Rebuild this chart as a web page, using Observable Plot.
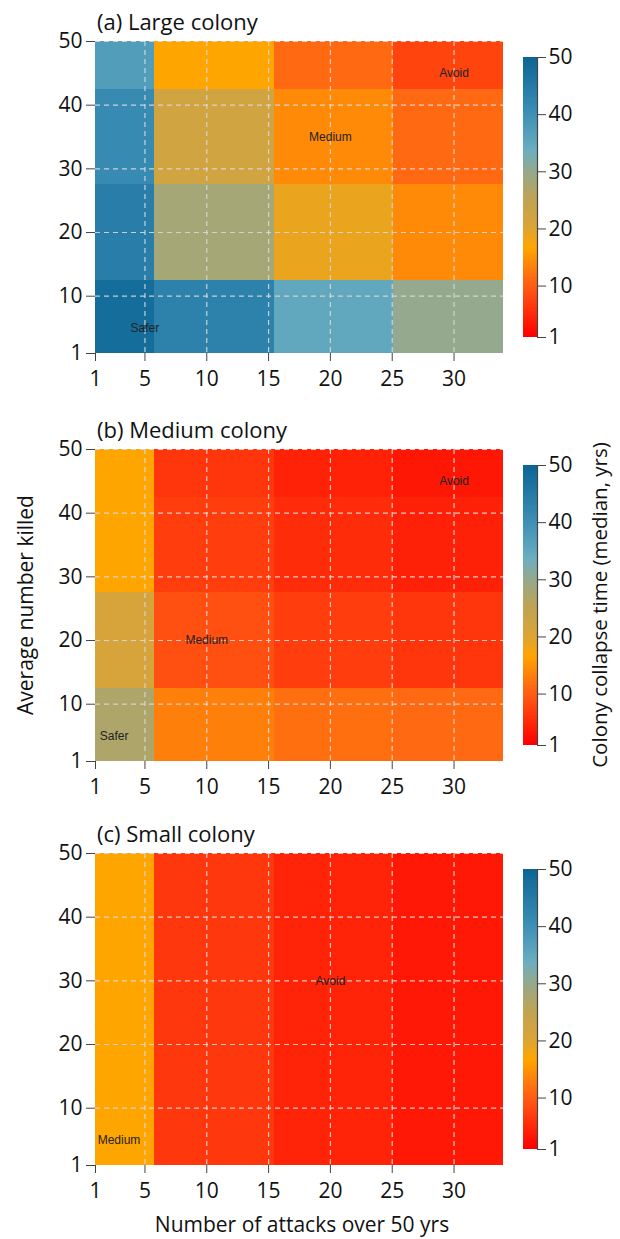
<!DOCTYPE html>
<html><head><meta charset="utf-8">
<script src="https://cdn.jsdelivr.net/npm/d3@7"></script>
<script src="https://cdn.jsdelivr.net/npm/@observablehq/plot@0.6"></script>
<style>
body{margin:0;background:#fff;}
#wrap{position:relative;width:620px;height:1239px;font-family:"Open Sans",Lato,sans-serif;color:#111;overflow:hidden;}
.abs{position:absolute;}
.ptitle{position:absolute;font-size:22px;white-space:nowrap;line-height:1;}
.rot{position:absolute;white-space:nowrap;line-height:1;transform:translate(-50%,-50%) rotate(-90deg);}
.xt{position:absolute;white-space:nowrap;line-height:1;transform:translateX(-50%);}
</style></head><body><div id="wrap"></div>
<script>
// ---- data ----
const attackBreaks = [1, 5.8, 15.5, 25.1, 34];      // column edges (number of attacks)
const killedBreaks = [1, 12.5, 27.6, 42.4, 50];     // row edges (average number killed)
const xTicks = [1, 5, 10, 15, 20, 25, 30];
const yTicks = [1, 10, 20, 30, 40, 50];
const gridXTicks = [5, 10, 15, 20, 25, 30];
const gridYTicks = [10, 20, 30, 40, 50];
const colorbarTicks = [1, 10, 20, 30, 40, 50];
const colorStops = [1, 10, 16.5, 20, 25, 30, 33.5, 40, 50];
const colorRange = ["#ff0000", "#ff5e14", "#ffa500", "#dca434", "#bfa353", "#94a98e", "#6caec0", "#3c8fb5", "#0b6494"];
const panelTitles = ["(a) Large colony", "(b) Medium colony", "(c) Small colony"];
// median collapse time, rows bottom (1-12) to top (42-50), columns left to right
const largeColony = [
  [48, 43, 35, 30],
  [44, 28, 18.5, 14],
  [41, 22, 14, 11],
  [37, 16.5, 11, 7.5]
];
const mediumColony = [
  [27, 13, 11.5, 11],
  [21, 8.6, 6.8, 6.2],
  [16.5, 6.8, 5.2, 4.2],
  [16.5, 6.2, 4.3, 3.2]
];
const smallColony = [
  [16.5, 6.3, 4.4, 3.3],
  [16.5, 6.3, 4.4, 3.3],
  [16.5, 6.3, 4.4, 3.3],
  [16.5, 6.3, 4.4, 3.3]
];
const largeLabels = [{x: 5, y: 5, text: "Safer"}, {x: 20, y: 35, text: "Medium"}, {x: 30, y: 45, text: "Avoid"}];
const mediumLabels = [{x: 2.5, y: 5, text: "Safer"}, {x: 10, y: 20, text: "Medium"}, {x: 30, y: 45, text: "Avoid"}];
const smallLabels = [{x: 2.9, y: 5, text: "Medium"}, {x: 20, y: 30, text: "Avoid"}];
const panelValues = [largeColony, mediumColony, smallColony];
const panelLabels = [largeLabels, mediumLabels, smallLabels];
const panelTops = [0, 408, 812];
const titleTops = [9.5, 417.5, 821.5];
const rampValues = d3.range(1, 50, 0.25);

// ---- build ----
const wrap = document.getElementById("wrap");
const colorScale = {type: "linear", domain: colorStops, range: colorRange, interpolate: "rgb"};
const font = "'Open Sans', Lato, sans-serif";

function cellsOf(vals) {
  const out = [];
  vals.forEach((row, r) => row.forEach((v, c) => out.push({
    x1: attackBreaks[c], x2: attackBreaks[c + 1], y1: killedBreaks[r], y2: killedBreaks[r + 1], value: v
  })));
  return out;
}

panelValues.forEach((vals, i) => {
  const top = panelTops[i];
  const main = Plot.plot({
    width: 510, height: 393,
    marginLeft: 95, marginRight: 7, marginTop: 41, marginBottom: 40,
    x: {domain: [1, 34]},
    y: {domain: [1, 50]},
    color: colorScale,
    style: {fontFamily: font, fontSize: "21px", color: "#111", background: "transparent", overflow: "visible"},
    marks: [
      Plot.rect(cellsOf(vals), {x1: "x1", x2: "x2", y1: "y1", y2: "y2", fill: "value", shapeRendering: "crispEdges"}),
      Plot.gridX(gridXTicks, {stroke: "#d8d8d8", strokeOpacity: 0.9, strokeWidth: 1.2, strokeDasharray: "5,4"}),
      Plot.gridY(gridYTicks, {stroke: "#d8d8d8", strokeOpacity: 0.9, strokeWidth: 1.2, strokeDasharray: "5,4"}),
      Plot.axisX(xTicks, {tickSize: 8, tickPadding: 10, label: null, stroke: "#444", fontSize: 21}),
      Plot.axisY(yTicks, {tickSize: 9, tickPadding: 4, label: null, stroke: "#444", fontSize: 21}),
      Plot.text(panelLabels[i], {x: "x", y: "y", text: "text", fontSize: 12, fontFamily: "'Liberation Sans', Arial, sans-serif", fill: "#222"})
    ]
  });
  main.classList.add("abs");
  main.style.left = "0px";
  main.style.top = top + "px";
  wrap.appendChild(main);

  const bar = Plot.plot({
    width: 90, height: 393,
    marginLeft: 23, marginRight: 53, marginTop: 57, marginBottom: 56,
    y: {domain: [1, 50]},
    color: colorScale,
    style: {fontFamily: font, fontSize: "21px", color: "#111", background: "transparent", overflow: "visible"},
    marks: [
      Plot.rect(rampValues, {y1: d => d, y2: d => Math.min(50, d + 0.3), fill: d => d, shapeRendering: "crispEdges"}),
      Plot.frame({anchor: "right", stroke: "#444", strokeWidth: 1.2}),
      Plot.axisY(colorbarTicks, {anchor: "right", tickSize: 8, tickPadding: 3, label: null, stroke: "#444", fontSize: 21})
    ]
  });
  bar.classList.add("abs");
  bar.style.left = "500px";
  bar.style.top = top + "px";
  wrap.appendChild(bar);

  const t = document.createElement("div");
  t.className = "ptitle";
  t.textContent = panelTitles[i];
  t.style.left = "97px";
  t.style.top = titleTops[i] + "px";
  wrap.appendChild(t);
});

const yl = document.createElement("div");
yl.className = "rot"; yl.textContent = "Average number killed";
yl.style.left = "25px"; yl.style.top = "605px"; yl.style.fontSize = "21px";
wrap.appendChild(yl);

const cl = document.createElement("div");
cl.className = "rot"; cl.textContent = "Colony collapse time (median, yrs)";
cl.style.left = "599px"; cl.style.top = "605px"; cl.style.fontSize = "20.5px";
wrap.appendChild(cl);

const xl = document.createElement("div");
xl.className = "xt"; xl.textContent = "Number of attacks over 50 yrs";
xl.style.left = "302px"; xl.style.top = "1214px"; xl.style.fontSize = "21px";
wrap.appendChild(xl);
</script></body></html>
